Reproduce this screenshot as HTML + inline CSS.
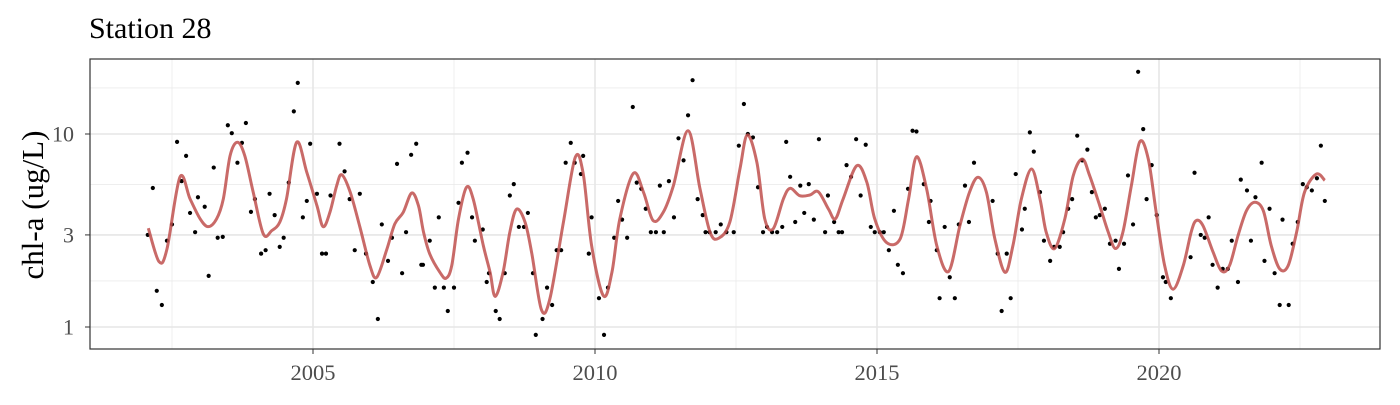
<!DOCTYPE html>
<html><head><meta charset="utf-8"><style>
html,body{margin:0;padding:0;background:#fff;}
svg text{font-family:"Liberation Serif",serif;}
</style></head><body>
<svg id="chart" width="1400" height="400" xmlns="http://www.w3.org/2000/svg">
<text x="89" y="38" font-size="30" fill="#000">Station 28</text>
<text transform="translate(43,205) rotate(-90)" text-anchor="middle" font-size="31" fill="#000">chl-a (ug/L)</text>
<g id="grid"></g>
<g id="ticks"></g>
<g id="pts"></g>
<g id="smooth"></g>
<rect x="90" y="59" width="1290" height="290" fill="none" stroke="#333" stroke-width="1.2"/>
</svg>
<script>
const obsYear=[2002.07,2002.16,2002.23,2002.32,2002.41,2002.5,2002.59,2002.67,2002.75,2002.82,2002.91,2002.96,2003.08,2003.15,2003.24,2003.31,2003.4,2003.49,2003.56,2003.66,2003.74,2003.81,2003.9,2003.97,2004.08,2004.16,2004.23,2004.32,2004.41,2004.48,2004.57,2004.66,2004.73,2004.82,2004.89,2004.95,2005.07,2005.16,2005.23,2005.31,2005.47,2005.56,2005.65,2005.74,2005.83,2005.94,2006.06,2006.15,2006.22,2006.33,2006.4,2006.49,2006.58,2006.65,2006.74,2006.83,2006.92,2006.95,2007.07,2007.16,2007.23,2007.32,2007.39,2007.5,2007.58,2007.64,2007.74,2007.82,2007.87,2008.01,2008.08,2008.12,2008.24,2008.31,2008.4,2008.49,2008.56,2008.65,2008.74,2008.81,2008.9,2008.95,2009.07,2009.15,2009.24,2009.32,2009.4,2009.48,2009.57,2009.64,2009.79,2009.75,2009.94,2009.89,2010.07,2010.16,2010.23,2010.34,2010.41,2010.48,2010.57,2010.67,2010.74,2010.82,2010.9,2010.99,2011.08,2011.15,2011.22,2011.31,2011.4,2011.48,2011.57,2011.65,2011.73,2011.82,2011.91,2011.96,2012.03,2012.14,2012.23,2012.33,2012.46,2012.55,2012.64,2012.71,2012.8,2012.89,2012.98,2013.05,2013.14,2013.23,2013.32,2013.39,2013.46,2013.55,2013.64,2013.71,2013.79,2013.88,2013.97,2014.08,2014.13,2014.24,2014.32,2014.38,2014.46,2014.54,2014.63,2014.71,2014.8,2014.89,2014.96,2015.05,2015.12,2015.21,2015.3,2015.37,2015.46,2015.55,2015.63,2015.7,2015.83,2015.95,2015.92,2016.06,2016.11,2016.2,2016.29,2016.38,2016.45,2016.56,2016.63,2016.72,2017.05,2017.14,2017.21,2017.3,2017.37,2017.46,2017.57,2017.62,2017.71,2017.78,2017.89,2017.96,2018.07,2018.14,2018.24,2018.3,2018.39,2018.46,2018.55,2018.64,2018.73,2018.81,2018.88,2018.95,2019.04,2019.13,2019.23,2019.29,2019.38,2019.45,2019.54,2019.63,2019.72,2019.78,2019.87,2019.96,2020.07,2020.12,2020.21,2020.56,2020.63,2020.74,2020.81,2020.88,2020.95,2021.04,2021.13,2021.22,2021.29,2021.4,2021.45,2021.56,2021.63,2021.71,2021.82,2021.87,2021.96,2022.05,2022.14,2022.19,2022.3,2022.37,2022.46,2022.55,2022.62,2022.71,2022.8,2022.87,2022.94];
const obsValue=[3.0,5.25,1.54,1.30,2.8,3.4,9.1,5.7,7.7,3.9,3.1,4.7,4.2,1.84,6.7,2.9,2.93,11.1,10.1,7.1,9.0,11.4,3.95,4.6,2.4,2.5,4.9,3.8,2.6,2.9,5.6,13.1,18.4,3.7,4.5,8.9,4.9,2.4,2.4,4.8,8.9,6.4,4.6,2.5,4.9,2.4,1.71,1.1,3.4,2.2,2.9,7.0,1.9,3.1,7.8,8.9,2.1,2.1,2.8,1.6,3.7,1.6,1.21,1.6,4.4,7.1,8.0,3.7,2.8,3.2,1.71,1.9,1.21,1.1,1.9,4.8,5.5,3.3,3.3,3.9,1.9,0.91,1.1,1.6,1.3,2.5,2.5,7.1,9.0,7.1,7.7,6.2,3.7,2.4,1.41,0.91,1.6,2.9,4.5,3.6,2.9,13.8,5.6,5.2,4.1,3.1,3.1,5.4,3.1,5.7,3.7,9.5,7.3,12.5,19.0,4.6,3.8,3.1,3.1,3.1,3.4,3.1,3.1,8.7,14.3,10.0,9.6,5.3,3.1,3.3,3.1,3.1,3.3,9.1,6.0,3.5,5.4,3.9,5.5,3.6,9.4,3.1,4.8,3.5,3.1,3.1,6.9,6.0,9.4,4.8,8.8,3.3,3.1,3.1,3.1,2.5,4.0,2.1,1.9,5.2,10.4,10.3,5.5,4.5,3.5,2.5,1.41,3.3,1.81,1.41,3.4,5.4,3.5,7.1,4.5,2.4,1.21,2.4,1.41,6.2,3.2,4.1,10.2,8.1,5.0,2.8,2.2,2.6,2.6,3.1,4.1,4.6,9.8,7.3,8.3,5.0,3.7,3.8,4.1,2.7,2.8,2.0,2.7,6.1,3.4,21,10.6,4.6,6.9,3.8,1.81,1.71,1.41,2.3,6.3,3.0,2.9,3.7,2.1,1.6,2.0,2.0,2.8,1.71,5.8,5.1,2.8,4.7,7.1,2.2,4.1,1.9,1.3,3.6,1.3,2.7,3.5,5.5,5.3,5.1,5.9,8.7,4.5];
const fitYear=[2002.08,2002.27,2002.41,2002.64,2002.82,2003.0,2003.14,2003.29,2003.41,2003.53,2003.66,2003.79,2003.94,2004.12,2004.27,2004.41,2004.53,2004.71,2004.89,2005.07,2005.18,2005.3,2005.42,2005.51,2005.66,2005.83,2006.01,2006.13,2006.31,2006.45,2006.6,2006.75,2006.87,2006.96,2007.07,2007.25,2007.36,2007.46,2007.58,2007.72,2007.84,2008.02,2008.14,2008.23,2008.37,2008.49,2008.61,2008.76,2008.88,2009.05,2009.2,2009.44,2009.65,2009.79,2009.94,2010.15,2010.3,2010.44,2010.68,2010.86,2011.03,2011.21,2011.39,2011.65,2011.86,2012.04,2012.19,2012.39,2012.57,2012.7,2012.87,2013.01,2013.16,2013.34,2013.46,2013.63,2013.81,2013.96,2014.14,2014.26,2014.4,2014.64,2014.82,2014.96,2015.17,2015.41,2015.56,2015.7,2015.88,2016.06,2016.27,2016.47,2016.64,2016.79,2016.94,2017.09,2017.27,2017.41,2017.56,2017.74,2017.89,2018.0,2018.15,2018.33,2018.48,2018.64,2018.77,2018.95,2019.1,2019.23,2019.36,2019.51,2019.66,2019.81,2019.95,2020.1,2020.25,2020.43,2020.57,2020.66,2020.78,2020.96,2021.11,2021.25,2021.4,2021.55,2021.7,2021.85,2021.99,2022.14,2022.29,2022.44,2022.58,2022.79,2022.94];
const fitValue=[3.25,2.18,2.53,5.97,4.61,3.63,3.31,3.63,4.61,7.72,9.06,7.72,4.99,3.03,3.16,3.49,4.61,9.06,6.33,4.25,3.31,3.93,5.4,6.15,4.99,3.31,2.08,1.81,2.53,3.42,3.93,4.95,4.25,3.1,2.39,1.92,1.79,2.08,3.63,5.29,4.61,2.64,1.92,1.44,1.92,3.1,4.08,3.49,2.4,1.23,1.40,3.49,7.57,6.25,2.64,1.45,1.92,3.63,6.25,4.99,3.56,3.93,5.4,10.4,5.23,3.1,2.88,3.49,6.59,9.88,7.13,3.63,3.23,4.61,5.23,4.79,4.83,5.02,4.08,3.63,4.61,6.85,5.62,3.63,2.74,2.86,4.61,7.62,5.19,2.64,1.94,3.35,4.99,5.97,4.99,2.86,1.92,2.64,4.61,6.59,4.61,3.1,2.55,3.63,6.09,7.42,6.09,4.25,3.1,2.55,3.1,5.4,9.12,7.42,3.93,2.08,1.57,2.08,3.1,3.56,3.35,2.44,1.95,2.08,2.97,4.0,4.43,4.0,2.64,2.0,2.08,3.1,4.99,6.2,5.75];
const xTicks=[2005,2010,2015,2020];
const xMinor=[2002.5,2007.5,2012.5,2017.5,2022.5];
const yTicks=[1,3,10];
const yMinor=[1.732,5.477,17.32];

const NS='http://www.w3.org/2000/svg';
const L=90,R=1380,T=59,B=349;
function sx(yr){return 143.8+(yr-2002)*56.4;}
function sy(v){return 327-Math.log10(v)*193;}
function mk(tag,attrs,parent){const e=document.createElementNS(NS,tag);for(const k in attrs)e.setAttribute(k,attrs[k]);parent.appendChild(e);return e;}
const grid=document.getElementById('grid'),ticks=document.getElementById('ticks');
yMinor.forEach(v=>{const e=mk('line',{x1:L,x2:R,y1:sy(v),y2:sy(v),stroke:'#ebebeb','stroke-width':0.8},grid);

});
xMinor.forEach(v=>{const e=mk('line',{x1:sx(v),x2:sx(v),y1:T,y2:B,stroke:'#ebebeb','stroke-width':0.8},grid);

});
yTicks.forEach(v=>{const e=mk('line',{x1:L,x2:R,y1:sy(v),y2:sy(v),stroke:'#e6e6e6','stroke-width':1.6},grid);


const t=mk('line',{x1:L-5,x2:L,y1:sy(v),y2:sy(v),stroke:'#333','stroke-width':1},ticks);


const lb=mk('text',{x:L-16,y:sy(v)+7.5,'text-anchor':'end','font-size':22,fill:'#4d4d4d'},ticks);lb.textContent=v;

});
xTicks.forEach(v=>{const e=mk('line',{x1:sx(v),x2:sx(v),y1:T,y2:B,stroke:'#e6e6e6','stroke-width':1.6},grid);


const t=mk('line',{x1:sx(v),x2:sx(v),y1:B,y2:B+5,stroke:'#333','stroke-width':1},ticks);


const lb=mk('text',{x:sx(v),y:B+31,'text-anchor':'middle','font-size':22.5,fill:'#4d4d4d'},ticks);lb.textContent=v;

});
const pts=document.getElementById('pts');
obsYear.forEach((yr,i)=>{const c=mk('circle',{cx:sx(yr),cy:sy(obsValue[i]),r:2.1,fill:'#000'},pts);

});
const P=fitYear.map((yr,i)=>[sx(yr),sy(fitValue[i])]);
let d='M'+P[0][0]+','+P[0][1];
for(let i=0;i<P.length-1;i++){const p0=P[Math.max(0,i-1)],p1=P[i],p2=P[i+1],p3=P[Math.min(P.length-1,i+2)];
d+=' C'+(p1[0]+(p2[0]-p0[0])/6)+','+(p1[1]+(p2[1]-p0[1])/6)+' '+(p2[0]-(p3[0]-p1[0])/6)+','+(p2[1]-(p3[1]-p1[1])/6)+' '+p2[0]+','+p2[1];}
const path=mk('path',{d:d,fill:'none',stroke:'#c0504d','stroke-opacity':0.85,'stroke-width':3,'stroke-linejoin':'round'},document.getElementById('smooth'));


</script>
</body></html>
